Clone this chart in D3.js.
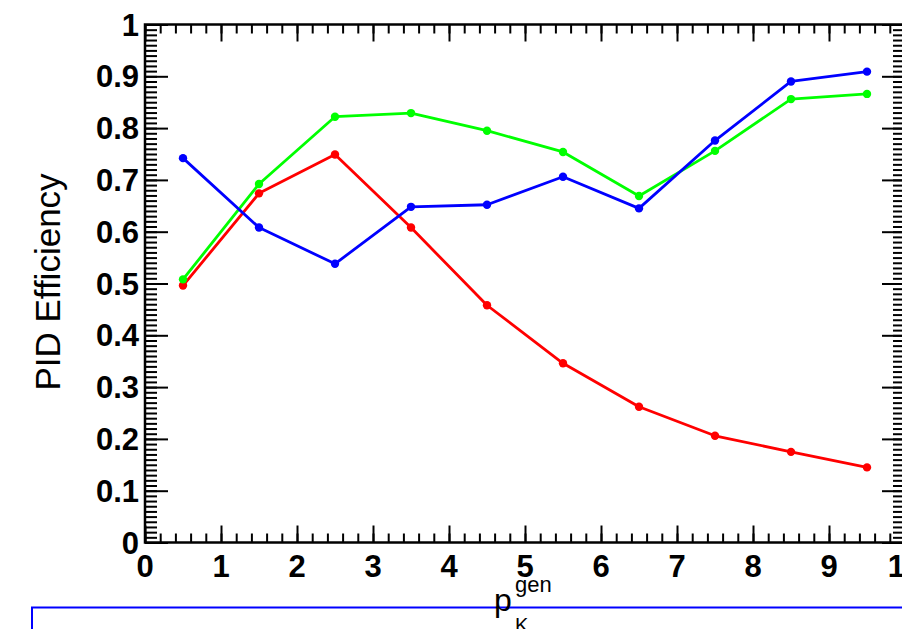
<!DOCTYPE html>
<html>
<head>
<meta charset="utf-8">
<script src="https://cdn.jsdelivr.net/npm/d3@7"></script>
<style>
  html, body { margin: 0; padding: 0; background: #fff; overflow: hidden; }
  svg { display: block; }
</style>
</head>
<body>
<svg id="chart" width="902" height="629"></svg>
<script>
// Momentum bin centres (GeV/c)
const pBins = [0.5, 1.5, 2.5, 3.5, 4.5, 5.5, 6.5, 7.5, 8.5, 9.5];

// PID efficiency per bin for each selection
const effRed   = [0.496, 0.674, 0.749, 0.608, 0.458, 0.346, 0.262, 0.206, 0.175, 0.145];
const effGreen = [0.508, 0.692, 0.822, 0.829, 0.795, 0.754, 0.669, 0.756, 0.856, 0.866];
const effBlue  = [0.742, 0.608, 0.538, 0.648, 0.652, 0.706, 0.645, 0.776, 0.890, 0.909];

// Axis ticks
const xMajor = [0, 1, 2, 3, 4, 5, 6, 7, 8, 9, 10];
const yMajor = [0, 0.1, 0.2, 0.3, 0.4, 0.5, 0.6, 0.7, 0.8, 0.9, 1];
const xMinor = d3.range(0, 10.001, 0.2).map(v => +v.toFixed(2));
const yMinor = d3.range(0, 1.0001, 0.01).map(v => +v.toFixed(3));

const svg = d3.select("#chart");

const frame = { left: 145, right: 905, top: 24.5, bottom: 542.5 };
const x = d3.scaleLinear().domain([0, 10]).range([frame.left, frame.right]);
const y = d3.scaleLinear().domain([0, 1]).range([frame.bottom, frame.top]);

// Legend box below the axis
svg.append("rect")
  .attr("x", 32).attr("y", 607.5)
  .attr("width", 1000).attr("height", 200)
  .attr("fill", "#fff")
  .attr("stroke", "#0000ff").attr("stroke-width", 2);

// Helper: an axis group with ticks only (no domain path)
function tickAxis(axisFn, scale, values, size, translate) {
  const g = svg.append("g")
    .attr("transform", translate)
    .call(axisFn(scale).tickValues(values).tickSize(size).tickFormat(""));
  g.select(".domain").remove();
  g.selectAll(".tick line").attr("stroke", "#000").attr("stroke-width", 2);
  return g;
}

// Bottom / top ticks (inward)
tickAxis(d3.axisBottom, x, xMinor, -9, `translate(0,${frame.bottom})`);
tickAxis(d3.axisBottom, x, xMajor, -17, `translate(0,${frame.bottom})`);
tickAxis(d3.axisTop, x, xMinor, -9, `translate(0,${frame.top})`);
tickAxis(d3.axisTop, x, xMajor, -17, `translate(0,${frame.top})`);
// Left / right ticks (inward)
tickAxis(d3.axisLeft, y, yMinor, -12, `translate(${frame.left},0)`);
tickAxis(d3.axisLeft, y, yMajor, -23, `translate(${frame.left},0)`);
tickAxis(d3.axisRight, y, yMinor, -12, `translate(${frame.right},0)`);
tickAxis(d3.axisRight, y, yMajor, -23, `translate(${frame.right},0)`);

// Frame
svg.append("rect")
  .attr("x", frame.left).attr("y", frame.top)
  .attr("width", frame.right - frame.left)
  .attr("height", frame.bottom - frame.top)
  .attr("fill", "none").attr("stroke", "#000").attr("stroke-width", 2.5);

// Tick labels
const labelFont = "'Liberation Sans', Arial, Helvetica, sans-serif";
const fmt = d => (d === 0 || d === 1) ? String(d) : d3.format(".1f")(d);

svg.append("g").selectAll("text")
  .data(yMajor).join("text")
  .attr("x", frame.left - 6)
  .attr("y", d => y(d))
  .attr("dy", "0.36em")
  .attr("text-anchor", "end")
  .attr("font-family", labelFont)
  .attr("font-weight", "bold")
  .attr("font-size", 31)
  .text(fmt);

svg.append("g").selectAll("text")
  .data(xMajor).join("text")
  .attr("x", d => x(d))
  .attr("y", 577)
  .attr("text-anchor", "middle")
  .attr("font-family", labelFont)
  .attr("font-weight", "bold")
  .attr("font-size", 31)
  .text(d => String(d));

// Axis titles
svg.append("text")
  .attr("transform", "translate(60,282) rotate(-90)")
  .attr("text-anchor", "middle")
  .attr("font-family", labelFont)
  .attr("font-size", 35)
  .text("PID Efficiency");

const xt = svg.append("g").attr("font-family", labelFont);
xt.append("text").attr("x", 494).attr("y", 611).attr("font-size", 32).text("p");
xt.append("text").attr("x", 515).attr("y", 592).attr("font-size", 22).text("gen");
xt.append("text").attr("x", 515).attr("y", 632).attr("font-size", 20).text("K");

// Efficiency curves
const series = [
  { values: effRed,   color: "#ff0000" },
  { values: effGreen, color: "#00ff00" },
  { values: effBlue,  color: "#0000ff" }
];

const line = d3.line().x(d => x(d[0])).y(d => y(d[1]));

series.forEach(s => {
  const pts = pBins.map((p, i) => [p, s.values[i]]);
  const g = svg.append("g");
  g.append("path")
    .attr("d", line(pts))
    .attr("fill", "none")
    .attr("stroke", s.color)
    .attr("stroke-width", 2.8)
    .attr("stroke-linejoin", "round");
  g.selectAll("circle").data(pts).join("circle")
    .attr("cx", d => x(d[0]))
    .attr("cy", d => y(d[1]))
    .attr("r", 4.2)
    .attr("fill", s.color);
});
</script>
</body>
</html>
